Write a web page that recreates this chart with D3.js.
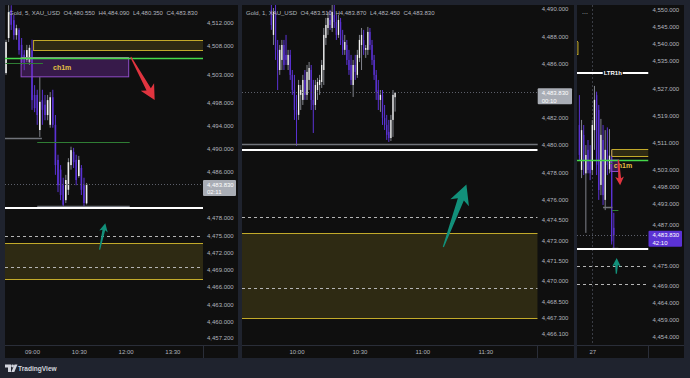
<!DOCTYPE html>
<html><head><meta charset="utf-8">
<script src="https://cdn.jsdelivr.net/npm/d3@7/dist/d3.min.js"></script>
<style>
html,body{margin:0;padding:0;background:#1f232e;}
svg{display:block;font-family:"Liberation Sans",Arial,sans-serif;}
</style></head><body>
<svg id="chart" width="690" height="378"></svg>
<script>
// ================= DATA =================
// Panel 1 : Gold, 5 min
const p1Time = ["08:10","08:15","08:20","08:25","08:30","08:35","08:40","08:45","08:50","08:55","09:00","09:05","09:10","09:15","09:20","09:25","09:30","09:35","09:40","09:45","09:50","09:55","10:00","10:05","10:10","10:15","10:20","10:25","10:30","10:35","10:40","10:45"];
const p1Open  = [4503.2,4509.3,4514.2,4512.4,4509.8,4510.7,4508.1,4506.4,4505.5,4505.1,4507.2,4499.4,4499.4,4493.3,4498.5,4497.7,4495.9,4494.2,4499.0,4494.2,4488.1,4486.4,4483.7,4481.1,4482.9,4487.2,4489.5,4488.1,4485.3,4486.7,4483.7,4480.55];
const p1High  = [4509.0,4515.0,4515.0,4513.3,4511.6,4511.0,4509.3,4507.2,4508.1,4508.1,4509.0,4501.1,4500.3,4502.5,4500.3,4499.4,4499.4,4499.9,4500.3,4495.9,4489.0,4487.2,4485.0,4485.5,4488.4,4490.4,4490.2,4489.0,4488.8,4487.2,4485.0,4484.09];
const p1Low   = [4502.9,4508.6,4510.7,4509.0,4509.0,4506.4,4504.6,4503.7,4505.1,4504.6,4496.8,4496.4,4494.2,4492.1,4494.2,4495.0,4495.0,4493.7,4493.7,4485.5,4482.5,4481.1,4479.9,4480.6,4482.0,4486.4,4486.7,4483.7,4485.0,4482.0,4479.9,4480.35];
const p1Close = [4508.6,4513.8,4511.6,4509.8,4511.0,4507.2,4505.1,4505.0,4507.2,4507.6,4498.5,4497.1,4495.9,4498.2,4496.8,4495.9,4498.5,4499.0,4494.2,4487.2,4483.7,4482.0,4480.3,4484.6,4487.7,4489.8,4487.7,4484.6,4488.1,4482.9,4480.6,4483.83];
const p1PriceTicks = [4512,4508,4503,4498,4494,4490,4486,4478,4475,4472,4469,4466,4463,4460,4457.2];
const p1TimeTicks = ["09:00","10:30","12:00","13:30"];

// Panel 2 : Gold, 1 min
const p2Time = ["09:48","09:49","09:50","09:51","09:52","09:53","09:54","09:55","09:56","09:57","09:58","09:59","10:00","10:01","10:02","10:03","10:04","10:05","10:06","10:07","10:08","10:09","10:10","10:11","10:12","10:13","10:14","10:15","10:16","10:17","10:18","10:19","10:20","10:21","10:22","10:23","10:24","10:25","10:26","10:27","10:28","10:29","10:30","10:31","10:32","10:33","10:34","10:35","10:36","10:37","10:38","10:39","10:40","10:41","10:42","10:43","10:44","10:45","10:46","10:47"];
const p2Open  = [4489.93,4488.09,4489.78,4486.99,4485.51,4486.25,4487.35,4486.62,4485.88,4486.62,4485.15,4484.04,4482.57,4482.21,4483.68,4483.31,4484.78,4483.68,4484.78,4485.51,4483.31,4482.94,4484.04,4484.41,4484.63,4485.51,4487.87,4488.60,4489.19,4488.60,4489.56,4489.04,4488.09,4489.04,4487.72,4486.99,4487.35,4486.25,4485.88,4484.41,4485.88,4485.15,4486.40,4487.35,4487.72,4486.99,4486.99,4488.31,4487.35,4486.25,4485.15,4484.04,4483.31,4483.68,4481.99,4481.47,4480.96,4480.51,4481.84,4483.51];
const p2High  = [4490.29,4490.07,4490.29,4487.72,4487.35,4487.72,4487.72,4488.09,4486.99,4486.99,4485.51,4485.15,4483.68,4484.78,4484.41,4485.15,4485.51,4485.88,4486.10,4485.88,4484.78,4484.78,4484.93,4485.15,4486.25,4488.60,4489.34,4489.78,4489.93,4490.29,4490.29,4489.56,4489.56,4489.34,4488.46,4488.09,4487.72,4486.99,4486.62,4486.25,4486.62,4486.99,4488.09,4488.60,4488.46,4487.35,4488.68,4488.60,4487.72,4486.62,4485.51,4484.78,4484.04,4484.04,4482.94,4482.21,4481.84,4482.21,4484.04,4483.87];
const p2Low   = [4488.46,4487.35,4486.25,4484.04,4485.15,4485.51,4485.51,4485.88,4485.51,4484.78,4483.68,4481.84,4479.93,4481.84,4482.57,4482.94,4483.31,4483.31,4484.04,4482.57,4480.88,4482.57,4483.31,4483.68,4484.19,4484.41,4487.35,4488.09,4488.46,4488.31,4488.60,4487.72,4487.87,4487.35,4486.62,4486.62,4485.88,4485.15,4484.41,4483.53,4484.78,4484.93,4486.10,4485.51,4486.62,4486.40,4486.62,4486.99,4485.88,4484.78,4483.31,4482.57,4482.43,4481.47,4481.10,4480.37,4480.22,4480.29,4480.59,4482.45];
const p2Close = [4488.82,4489.78,4486.99,4485.51,4486.99,4487.35,4485.88,4486.25,4486.62,4485.15,4484.04,4482.57,4482.21,4484.41,4484.04,4484.78,4483.68,4485.37,4485.66,4483.31,4482.94,4484.41,4484.63,4484.78,4485.88,4488.09,4488.82,4489.34,4488.82,4489.78,4489.04,4488.09,4489.19,4487.72,4486.99,4487.57,4486.25,4485.51,4484.78,4485.88,4485.37,4486.62,4487.72,4488.09,4486.99,4487.13,4488.31,4487.35,4486.25,4485.15,4483.90,4483.31,4483.68,4481.99,4481.47,4480.74,4480.51,4481.84,4483.68,4483.83];
const p2PriceTicks = [4490,4488,4486,4482,4480,4478,4476,4474.5,4473,4471.5,4470,4468.5,4467.3,4466.1];
const p2TimeTicks = ["10:00","10:30","11:00","11:30"];

// Panel 3 : Gold, 1 h
const p3Time = ["26 18:00","26 19:00","26 20:00","26 21:00","26 22:00","26 23:00","27 00:00","27 01:00","27 02:00","27 03:00","27 04:00","27 05:00","27 06:00","27 07:00","27 08:00","27 09:00","27 10:00"];
const p3Open  = [4516.2,4503.0,4513.3,4502.0,4508.9,4505.9,4503.0,4514.7,4525.0,4520.6,4498.6,4511.8,4494.2,4508.9,4503.2,4507.2,4486.0];
const p3High  = [4525.0,4517.7,4516.2,4510.3,4511.8,4510.3,4517.7,4527.7,4526.0,4522.1,4518.0,4516.2,4514.7,4515.5,4515.0,4509.0,4490.4];
const p3Low   = [4505.9,4500.6,4501.5,4484.5,4502.0,4500.0,4501.5,4508.9,4501.5,4494.2,4495.6,4492.7,4491.2,4501.5,4502.0,4481.1,4479.9];
const p3Close = [4507.4,4514.7,4505.9,4507.4,4503.0,4502.0,4516.2,4523.6,4504.5,4497.1,4513.3,4495.6,4508.9,4504.5,4507.2,4482.0,4483.83];
const p3PriceTicks = [4550,4545,4540,4535,4527,4519,4511,4503,4498,4493,4487,4475,4469,4464,4459,4454];
const p3TimeTicks = ["27 00:00"];

// Drawings (shared price levels / times)
const levelGreen = 4505.7;
const levelWhite = 4479.65;
const levelDashed = [4474.7, 4469.45];
const levelLTR = 4531.6;
const zoneUpper = [4507.05, 4508.95];
const zoneUpperStart = "27 09:03";
const zoneLower = [4467.25, 4473.5];
const zoneLeft = [4536.8, 4540.6];
const zoneLeftEnd = "26 17:20";
const ch1mBox = [4502.55, 4505.9];
const ch1mSpan = ["27 08:39", "27 12:06"];
const grayPrice = [4491.9, 4480.0];
const grayFrom = ["27 05:00", "27 09:10"];
const grayTo = ["27 09:19", "27 12:08"];
const dkGreenPrice = [4504.8, 4491.2];
const dkGreenFrom = ["27 08:09", "27 09:10"];
const dkGreenTo = ["27 09:21", "27 12:08"];
const arrowRedFrom = ["27 12:10", 4506.0], arrowRedTo = ["27 12:56", 4498.5];
const arrowTealFrom = ["27 11:10", 4472.5], arrowTealTo = ["27 11:21", 4477.1];
const countdowns = ["02:11", "00:10", "42:10"];

// ================= DRAWING =================
const svg = d3.select("#chart");
const fmtP = d3.format(",.3f");
const parseT = d3.timeParse("%d %H:%M");
const T = s => parseT(s.indexOf(" ") > 0 ? s : "27 " + s);
const C = {panel:"#0f0f0f", text:"#b2b5be", sep:"#2a2e39", up:"#f0f0f0", upWick:"#80838b", down:"#5b32d4",
  yellow:"#c2aa2a", zoneFill:"rgba(200,180,40,0.17)", green:"#45d84a", dkGreen:"#2f7d34", gray:"#70737a",
  dash:"#b5b5b5", red:"#e0343f", teal:"#12907a", purpleFill:"rgba(120,45,170,0.38)", purpleStroke:"#8e4cc6"};

const panels = [
  {box:[5,5,238,358], plot:[5,5,203,345], tDomain:["27 08:08","27 14:29"], pDomain:[4455.91,4515.04],
   time:p1Time,o:p1Open,h:p1High,l:p1Low,c:p1Close, pTicks:p1PriceTicks, tTicks:p1TimeTicks, tFmt:"%H:%M",
   name:"Gold, 5, XAU_USD", labelFill:"#a9adb5", zoneLower:true, ch1mLabel:"27 09:58"},
  {box:[242,5,574,358], plot:[242,5,537.7,345], tDomain:["27 09:34","27 11:55"], pDomain:[4465.29,4490.29],
   time:p2Time,o:p2Open,h:p2High,l:p2Low,c:p2Close, pTicks:p2PriceTicks, tTicks:p2TimeTicks, tFmt:"%H:%M",
   name:"Gold, 1, XAU_USD", labelFill:"#a9adb5", zoneLower:true, ch1mLabel:"27 09:58"},
  {box:[577,5,684,358], plot:[577,5,648.5,345], tDomain:["26 16:53","28 02:08"], pDomain:[4451.56,4551.47],
   time:p3Time,o:p3Open,h:p3High,l:p3Low,c:p3Close, pTicks:p3PriceTicks, tTicks:p3TimeTicks, tFmt:"%-d",
   name:null, labelFill:"#5b32d4", zoneLower:false, ch1mLabel:"27 14:17", daySep:"27 00:00"}
];

const crisp = v => Math.round(v - 0.5) + 0.5;

function arrowPath(x0,y0,x1,y1){
  const dx=x1-x0, dy=y1-y0, L=Math.hypot(dx,dy), ux=dx/L, uy=dy/L, nx=-uy, ny=ux;
  const hl=Math.max(7,Math.min(16,L*0.25)), hw=hl*0.62, sw=hl*0.2, tw=0.6;
  const bx=x1-ux*hl, by=y1-uy*hl, kx=x1-ux*hl*1.22, ky=y1-uy*hl*1.22;
  return `M${x0+nx*tw},${y0+ny*tw}L${bx+nx*sw},${by+ny*sw}L${kx+nx*hw},${ky+ny*hw}L${x1},${y1}`+
         `L${kx-nx*hw},${ky-ny*hw}L${bx-nx*sw},${by-ny*sw}L${x0-nx*tw},${y0-ny*tw}Z`;
}

panels.forEach((P, idx) => {
  const [bx0,by0,bx1,by1] = P.box, [px0,py0,px1,py1] = P.plot;
  const g = svg.append("g");
  g.append("rect").attr("x",bx0).attr("y",by0).attr("width",bx1-bx0).attr("height",by1-by0).attr("fill",C.panel);
  const x = d3.scaleTime().domain(P.tDomain.map(T)).range([px0,px1]);
  const y = d3.scaleLinear().domain(P.pDomain).range([py1,py0]);
  const inY = v => y(v) > py0 + 4 && y(v) < py1 - 4;
  const clipId = "clip"+idx;
  svg.append("clipPath").attr("id",clipId).append("rect").attr("x",px0).attr("y",py0).attr("width",px1-px0).attr("height",py1-py0);
  const plot = g.append("g").attr("clip-path",`url(#${clipId})`);

  // separators
  g.append("line").attr("x1",bx0).attr("x2",bx1).attr("y1",py1+0.5).attr("y2",py1+0.5).attr("stroke",C.sep);
  g.append("line").attr("x1",crisp(px1)).attr("x2",crisp(px1)).attr("y1",py1).attr("y2",by1).attr("stroke",C.sep);

  const hseg = (price, from, to, stroke, sw, dash) => {
    const xa = from ? x(T(from)) : px0, xb = to ? x(T(to)) : px1;
    const yy = sw % 2 ? crisp(y(price)) : Math.round(y(price));
    plot.append("line").attr("x1",xa).attr("x2",xb).attr("y1",yy).attr("y2",yy)
      .attr("stroke",stroke).attr("stroke-width",sw).attr("stroke-dasharray",dash||null);
  };

  if (P.daySep) {
    const xs = crisp(x(T(P.daySep)));
    plot.append("line").attr("x1",xs).attr("x2",xs).attr("y1",py0).attr("y2",py1)
      .attr("stroke","#3a3d45").attr("stroke-dasharray","2,2");
  }

  // candles
  const data = P.time.map((t,i)=>({t:T(t), o:P.o[i], h:P.h[i], l:P.l[i], c:P.c[i]}));
  const step = x(data[1].t) - x(data[0].t);
  const bw = Math.max(1, step*0.62);
  const cg = plot.append("g");
  cg.selectAll("line").data(data).join("line")
    .attr("x1",d=>x(d.t)).attr("x2",d=>x(d.t)).attr("y1",d=>y(d.h)).attr("y2",d=>y(d.l))
    .attr("stroke",d=>d.c>=d.o?C.upWick:C.down).attr("stroke-width",1);
  cg.selectAll("rect").data(data).join("rect")
    .attr("x",d=>x(d.t)-bw/2).attr("width",bw)
    .attr("y",d=>y(Math.max(d.o,d.c))).attr("height",d=>Math.max(1,Math.abs(y(d.o)-y(d.c))))
    .attr("fill",d=>d.c>=d.o?C.up:C.down);

  // zones
  const zone = (lo, hi, from, to) => {
    const xa = from ? x(T(from)) : px0, xb = to ? x(T(to)) : px1;
    plot.append("rect").attr("x",xa).attr("width",xb-xa).attr("y",y(hi)).attr("height",y(lo)-y(hi)).attr("fill",C.zoneFill);
    hseg(hi, from, to, C.yellow, 1); hseg(lo, from, to, C.yellow, 1);
    if (from) plot.append("line").attr("x1",xa).attr("x2",xa).attr("y1",y(hi)).attr("y2",y(lo)).attr("stroke",C.yellow);
    if (to) plot.append("line").attr("x1",xb).attr("x2",xb).attr("y1",y(hi)).attr("y2",y(lo)).attr("stroke",C.yellow);
  };
  zone(zoneUpper[0], zoneUpper[1], zoneUpperStart, null);
  zone(zoneLeft[0], zoneLeft[1], null, zoneLeftEnd);
  if (P.zoneLower) zone(zoneLower[0], zoneLower[1], null, null);

  // ch1m box
  const bxa = x(T(ch1mSpan[0])), bxb = x(T(ch1mSpan[1]));
  plot.append("rect").attr("x",bxa).attr("width",bxb-bxa).attr("y",y(ch1mBox[1])).attr("height",y(ch1mBox[0])-y(ch1mBox[1]))
    .attr("fill",C.purpleFill).attr("stroke",C.purpleStroke).attr("stroke-width",1);
  hseg(ch1mBox[1], ch1mSpan[0], ch1mSpan[1], "#8a8a90", 1);

  // horizontal levels
  grayPrice.forEach((p,i)=>hseg(p, grayFrom[i], grayTo[i], C.gray, 1.5));
  dkGreenPrice.forEach((p,i)=>hseg(p, dkGreenFrom[i], dkGreenTo[i], C.dkGreen, 1));
  hseg(levelGreen, null, null, C.green, 1.5);
  hseg(levelWhite, null, null, "#ffffff", 2);
  levelDashed.forEach(p=>hseg(p, null, null, C.dash, 1, "3,3"));

  // LTR1h level
  if (inY(levelLTR)) {
    hseg(levelLTR, null, null, "#ffffff", 2);
    const cx = (px0+px1)/2, yy = Math.round(y(levelLTR));
    plot.append("rect").attr("x",cx-10).attr("width",20).attr("y",yy-4).attr("height",8).attr("fill",C.panel);
    plot.append("text").attr("x",cx).attr("y",yy+2.2).attr("text-anchor","middle").attr("font-size",6)
      .attr("font-weight","bold").attr("fill","#ffffff").text("LTR1h");
  }

  // ch1m label
  const ch1mMid = (ch1mBox[0]+ch1mBox[1])/2;
  if (inY(ch1mMid)) {
    plot.append("text").attr("x",x(T(P.ch1mLabel))).attr("y",y(ch1mMid)+2.5)
      .attr("text-anchor","middle").attr("font-size",7).attr("font-weight","bold").attr("fill","#e2c043").text("ch1m");
  }

  // last price dotted line
  const last = data[data.length-1];
  const yl = y(last.c);
  plot.append("line").attr("x1",px0).attr("x2",px1).attr("y1",crisp(yl)).attr("y2",crisp(yl))
    .attr("stroke","#5d606b").attr("stroke-dasharray","1,2");

  // arrows
  plot.append("path").attr("d",arrowPath(x(T(arrowRedFrom[0])),y(arrowRedFrom[1]),x(T(arrowRedTo[0])),y(arrowRedTo[1]))).attr("fill",C.red);
  plot.append("path").attr("d",arrowPath(x(T(arrowTealFrom[0])),y(arrowTealFrom[1]),x(T(arrowTealTo[0])),y(arrowTealTo[1]))).attr("fill",C.teal);

  // price axis
  const ya = g.append("g").attr("transform",`translate(${px1},0)`)
    .call(d3.axisRight(y).tickValues(P.pTicks).tickFormat(fmtP).tickSize(0).tickPadding(4));
  ya.select(".domain").remove();
  ya.selectAll("text").attr("fill",C.text).attr("font-size",6).attr("font-family","Liberation Sans, Arial, sans-serif");

  // time axis
  const xa = g.append("g").attr("transform",`translate(0,${py1})`)
    .call(d3.axisBottom(x).tickValues(P.tTicks.map(T)).tickFormat(d3.timeFormat(P.tFmt)).tickSize(0).tickPadding(5));
  xa.select(".domain").remove();
  xa.selectAll("text").attr("fill",C.text).attr("font-size",6).attr("font-family","Liberation Sans, Arial, sans-serif");

  // last price label
  g.append("rect").attr("x",px1).attr("y",yl-4.5).attr("width",bx1-2-px1).attr("height",16).attr("rx",1).attr("fill",P.labelFill);
  g.append("text").attr("x",px1+4).attr("y",yl+2.2).attr("font-size",6).attr("fill","#ffffff").text(fmtP(last.c));
  g.append("text").attr("x",px1+4).attr("y",yl+9.8).attr("font-size",6).attr("fill","#ffffff").text(countdowns[idx]);

  // legend / title
  if (P.name) {
    const t = g.append("text").attr("x",px0+4).attr("y",15.2).attr("font-size",6).attr("fill",C.text);
    t.append("tspan").text(P.name);
    [["O",last.o],["H",last.h],["L",last.l],["C",last.c]].forEach(([k,v])=>t.append("tspan").attr("dx",3.5).text(k+fmtP(v)));
  } else {
    g.append("text").attr("x",px0+5).attr("y",14).attr("font-size",7).attr("fill",C.text).text("...");
  }
});

// TradingView logo
const logo = svg.append("g").attr("fill","#d1d4dc");
logo.append("path").attr("d","M5,364.5h6v7.5h-3v-4.5h-3z");
logo.append("circle").attr("cx",12.6).attr("cy",366).attr("r",1.4);
logo.append("path").attr("d","M14.5,364.5h3l-3.2,7.5h-3z");
svg.append("text").attr("x",18).attr("y",370.8).attr("font-size",6.6).attr("font-weight","bold").attr("fill","#d1d4dc").text("TradingView");
</script>
</body></html>
